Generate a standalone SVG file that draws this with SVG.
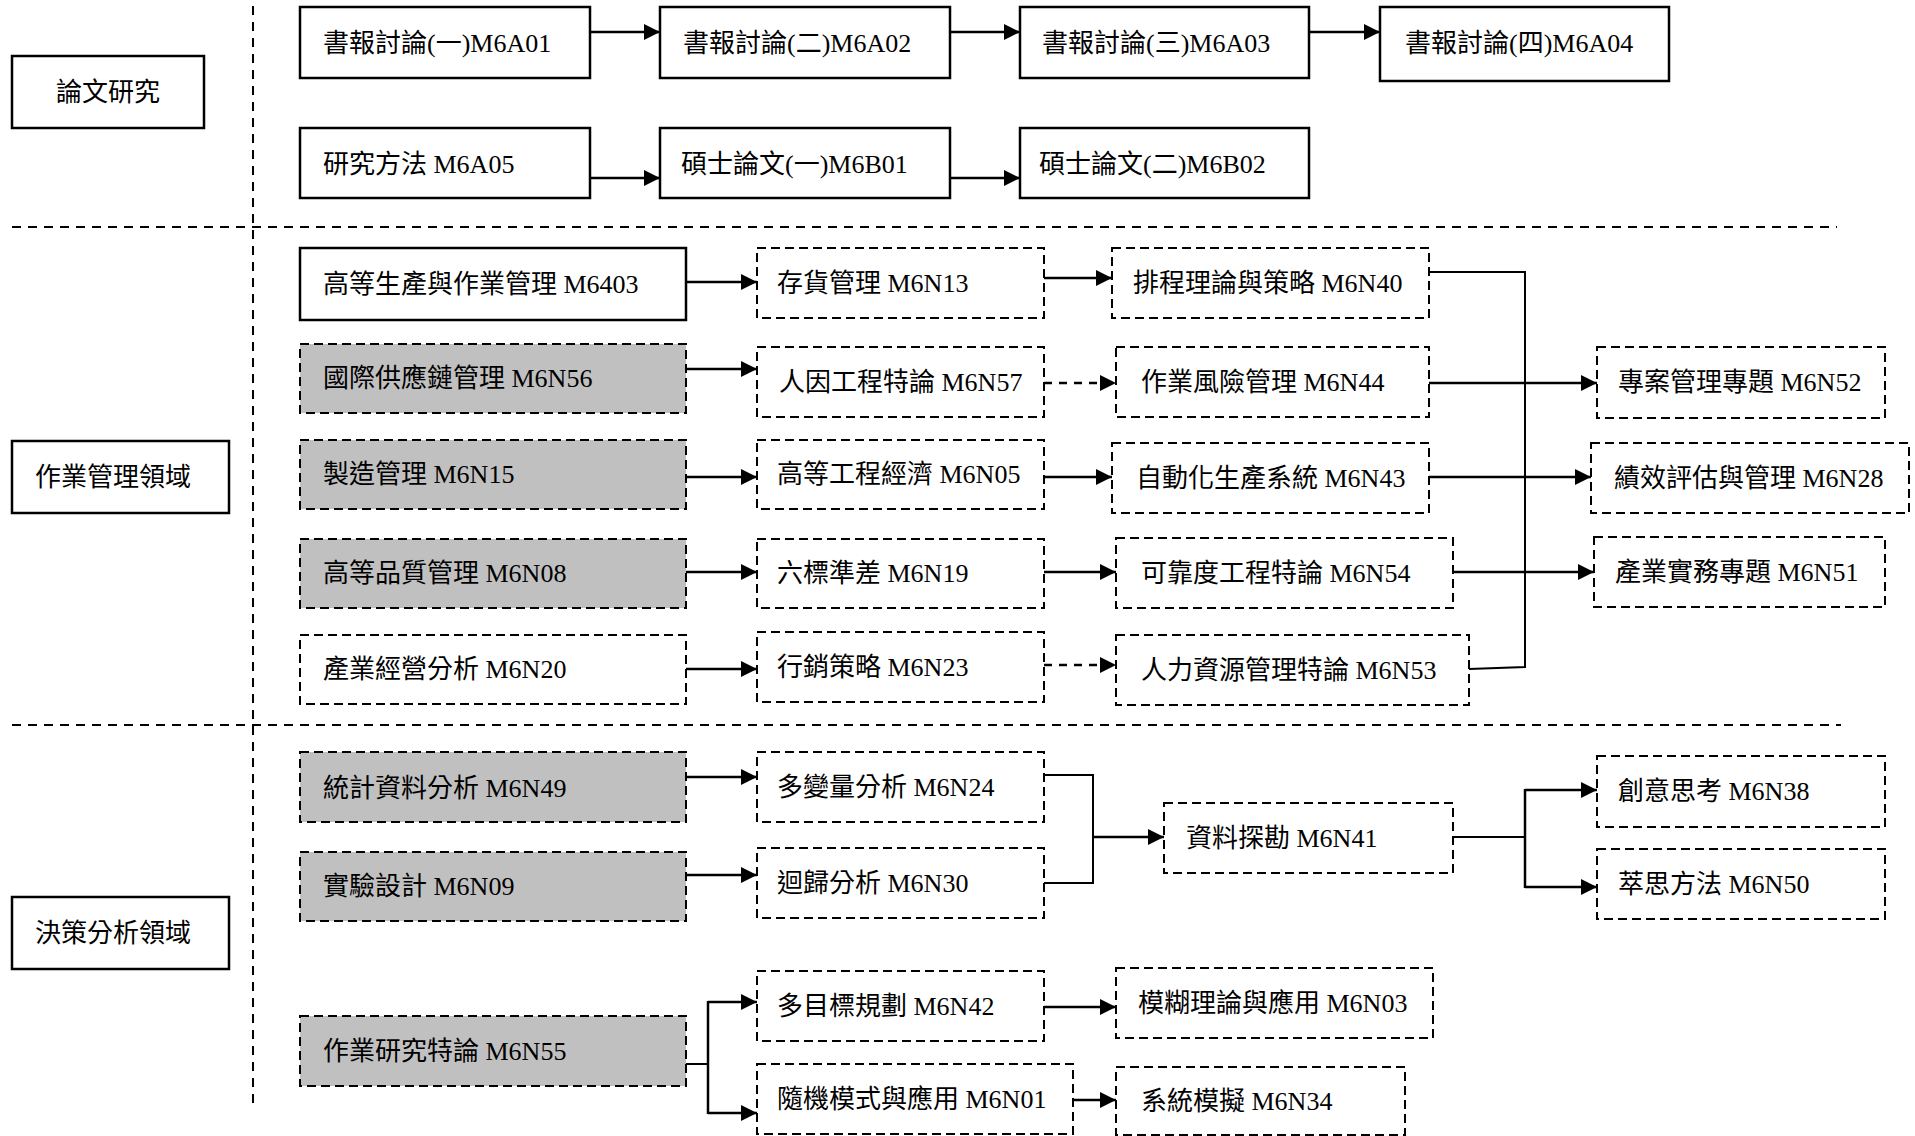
<svg xmlns="http://www.w3.org/2000/svg" width="1915" height="1136" viewBox="0 0 1915 1136">
<style>
  text { font-family: "Liberation Serif", "Noto Sans CJK TC", serif; font-size: 26px; fill: #000; }
  .solid { fill: #fff; stroke: #000; stroke-width: 2.5; }
  .dash { fill: #fff; stroke: #000; stroke-width: 2; stroke-dasharray: 9 5; }
  .gray { fill: #c0c0c0; stroke: #000; stroke-width: 2; stroke-dasharray: 9 5; }
  .sep { fill: none; stroke: #000; stroke-width: 2; stroke-dasharray: 9 7; }
  .ln { fill: none; stroke: #000; stroke-width: 2.5; }
  .thin { fill: none; stroke: #000; stroke-width: 2; }
  .dl { fill: none; stroke: #000; stroke-width: 2.5; stroke-dasharray: 8 7; }
</style>
<defs>
  <marker id="ah" viewBox="0 0 16 16" markerWidth="16" markerHeight="16" refX="16" refY="8" orient="auto" markerUnits="userSpaceOnUse">
    <path d="M0,0 L16,8 L0,16 z" fill="#000"/>
  </marker>
</defs>
<rect width="1915" height="1136" fill="#fff"/>

<g id="separators">
  <line class="sep" x1="253" y1="6" x2="253" y2="1107"/>
  <line class="sep" x1="12" y1="227" x2="1837" y2="227"/>
  <line class="sep" x1="12" y1="725" x2="1841" y2="725"/>
</g>

<g id="connectors">
  <line class="ln" x1="590" y1="32" x2="660" y2="32" marker-end="url(#ah)"/>
  <line class="ln" x1="950" y1="32" x2="1020" y2="32" marker-end="url(#ah)"/>
  <line class="ln" x1="1309" y1="32" x2="1380" y2="32" marker-end="url(#ah)"/>
  <line class="ln" x1="590" y1="178" x2="660" y2="178" marker-end="url(#ah)"/>
  <line class="ln" x1="950" y1="178" x2="1020" y2="178" marker-end="url(#ah)"/>

  <line class="ln" x1="686" y1="282" x2="757" y2="282" marker-end="url(#ah)"/>
  <line class="ln" x1="686" y1="369" x2="757" y2="369" marker-end="url(#ah)"/>
  <line class="ln" x1="686" y1="477" x2="757" y2="477" marker-end="url(#ah)"/>
  <line class="ln" x1="686" y1="572" x2="757" y2="572" marker-end="url(#ah)"/>
  <line class="ln" x1="686" y1="669" x2="757" y2="669" marker-end="url(#ah)"/>
  <line class="ln" x1="1044" y1="278" x2="1112" y2="278" marker-end="url(#ah)"/>
  <line class="dl" x1="1044" y1="383" x2="1116" y2="383" marker-end="url(#ah)"/>
  <line class="ln" x1="1044" y1="477" x2="1112" y2="477" marker-end="url(#ah)"/>
  <line class="ln" x1="1044" y1="572" x2="1116" y2="572" marker-end="url(#ah)"/>
  <line class="dl" x1="1044" y1="665" x2="1116" y2="665" marker-end="url(#ah)"/>
  <polyline class="thin" points="1429,272 1525,272 1525,667 1469,669"/>
  <line class="ln" x1="1429" y1="383" x2="1597" y2="383" marker-end="url(#ah)"/>
  <line class="ln" x1="1429" y1="477" x2="1591" y2="477" marker-end="url(#ah)"/>
  <line class="ln" x1="1453" y1="572" x2="1594" y2="572" marker-end="url(#ah)"/>

  <line class="ln" x1="686" y1="777" x2="757" y2="777" marker-end="url(#ah)"/>
  <line class="ln" x1="686" y1="875" x2="757" y2="875" marker-end="url(#ah)"/>
  <polyline class="thin" points="1044,775 1093,775 1093,883 1044,883"/>
  <line class="ln" x1="1093" y1="837" x2="1164" y2="837" marker-end="url(#ah)"/>
  <line class="thin" x1="1453" y1="837" x2="1525" y2="837"/>
  <line class="ln" x1="1525" y1="789" x2="1525" y2="888"/>
  <line class="ln" x1="1525" y1="790" x2="1597" y2="790" marker-end="url(#ah)"/>
  <line class="ln" x1="1525" y1="887" x2="1597" y2="887" marker-end="url(#ah)"/>
  <line class="thin" x1="686" y1="1064" x2="708" y2="1064"/>
  <line class="ln" x1="708" y1="1001" x2="708" y2="1114"/>
  <line class="ln" x1="708" y1="1002" x2="757" y2="1002" marker-end="url(#ah)"/>
  <line class="ln" x1="708" y1="1113" x2="757" y2="1113" marker-end="url(#ah)"/>
  <line class="ln" x1="1044" y1="1007" x2="1116" y2="1007" marker-end="url(#ah)"/>
  <line class="ln" x1="1073" y1="1100" x2="1116" y2="1100" marker-end="url(#ah)"/>
</g>

<g id="cat-thesis"><rect class="solid" x="12" y="56" width="192" height="72"/><text x="108" y="101" text-anchor="middle">論文研究</text></g>
<g id="M6A01"><rect class="solid" x="300" y="7" width="290" height="71"/><text x="323" y="52">書報討論(一)M6A01</text></g>
<g id="M6A02"><rect class="solid" x="660" y="7" width="290" height="71"/><text x="683" y="52">書報討論(二)M6A02</text></g>
<g id="M6A03"><rect class="solid" x="1020" y="7" width="289" height="71"/><text x="1042" y="52">書報討論(三)M6A03</text></g>
<g id="M6A04"><rect class="solid" x="1380" y="7" width="289" height="74"/><text x="1405" y="52">書報討論(四)M6A04</text></g>
<g id="M6A05"><rect class="solid" x="300" y="128" width="290" height="70"/><text x="323" y="173">研究方法 M6A05</text></g>
<g id="M6B01"><rect class="solid" x="660" y="128" width="290" height="70"/><text x="681" y="173">碩士論文(一)M6B01</text></g>
<g id="M6B02"><rect class="solid" x="1020" y="128" width="289" height="70"/><text x="1039" y="173">碩士論文(二)M6B02</text></g>

<g id="cat-ops"><rect class="solid" x="12" y="441" width="217" height="72"/><text x="35" y="486">作業管理領域</text></g>
<g id="M6403"><rect class="solid" x="300" y="248" width="386" height="72"/><text x="323" y="293">高等生產與作業管理 M6403</text></g>
<g id="M6N56"><rect class="gray" x="300" y="344" width="386" height="69"/><text x="323" y="387">國際供應鏈管理 M6N56</text></g>
<g id="M6N15"><rect class="gray" x="300" y="440" width="386" height="69"/><text x="323" y="483">製造管理 M6N15</text></g>
<g id="M6N08"><rect class="gray" x="300" y="539" width="386" height="69"/><text x="323" y="582">高等品質管理 M6N08</text></g>
<g id="M6N20"><rect class="dash" x="300" y="635" width="386" height="69"/><text x="323" y="678">產業經營分析 M6N20</text></g>
<g id="M6N13"><rect class="dash" x="757" y="248" width="287" height="70"/><text x="777" y="292">存貨管理 M6N13</text></g>
<g id="M6N57"><rect class="dash" x="757" y="347" width="287" height="70"/><text x="779" y="391">人因工程特論 M6N57</text></g>
<g id="M6N05"><rect class="dash" x="757" y="440" width="287" height="69"/><text x="777" y="483">高等工程經濟 M6N05</text></g>
<g id="M6N19"><rect class="dash" x="757" y="539" width="287" height="69"/><text x="777" y="582">六標準差 M6N19</text></g>
<g id="M6N23"><rect class="dash" x="757" y="632" width="287" height="70"/><text x="777" y="676">行銷策略 M6N23</text></g>
<g id="M6N40"><rect class="dash" x="1112" y="248" width="317" height="70"/><text x="1133" y="292">排程理論與策略 M6N40</text></g>
<g id="M6N44"><rect class="dash" x="1116" y="347" width="313" height="70"/><text x="1141" y="391">作業風險管理 M6N44</text></g>
<g id="M6N43"><rect class="dash" x="1112" y="443" width="317" height="70"/><text x="1136" y="487">自動化生產系統 M6N43</text></g>
<g id="M6N54"><rect class="dash" x="1116" y="538" width="337" height="70"/><text x="1141" y="582">可靠度工程特論 M6N54</text></g>
<g id="M6N53"><rect class="dash" x="1116" y="635" width="353" height="70"/><text x="1141" y="679">人力資源管理特論 M6N53</text></g>
<g id="M6N52"><rect class="dash" x="1597" y="347" width="288" height="71"/><text x="1618" y="391">專案管理專題 M6N52</text></g>
<g id="M6N28"><rect class="dash" x="1591" y="443" width="318" height="70"/><text x="1614" y="487">績效評估與管理 M6N28</text></g>
<g id="M6N51"><rect class="dash" x="1594" y="537" width="291" height="70"/><text x="1615" y="581">產業實務專題 M6N51</text></g>

<g id="cat-decision"><rect class="solid" x="12" y="897" width="217" height="72"/><text x="35" y="942">決策分析領域</text></g>
<g id="M6N49"><rect class="gray" x="300" y="752" width="386" height="70"/><text x="323" y="797">統計資料分析 M6N49</text></g>
<g id="M6N09"><rect class="gray" x="300" y="852" width="386" height="69"/><text x="323" y="895">實驗設計 M6N09</text></g>
<g id="M6N55"><rect class="gray" x="300" y="1016" width="386" height="70"/><text x="323" y="1060">作業研究特論 M6N55</text></g>
<g id="M6N24"><rect class="dash" x="757" y="752" width="287" height="70"/><text x="777" y="796">多變量分析 M6N24</text></g>
<g id="M6N30"><rect class="dash" x="757" y="848" width="287" height="70"/><text x="777" y="892">迴歸分析 M6N30</text></g>
<g id="M6N41"><rect class="dash" x="1164" y="803" width="289" height="70"/><text x="1186" y="847">資料探勘 M6N41</text></g>
<g id="M6N38"><rect class="dash" x="1597" y="756" width="288" height="71"/><text x="1618" y="800">創意思考 M6N38</text></g>
<g id="M6N50"><rect class="dash" x="1597" y="849" width="288" height="70"/><text x="1618" y="893">萃思方法 M6N50</text></g>
<g id="M6N42"><rect class="dash" x="757" y="971" width="287" height="70"/><text x="777" y="1015">多目標規劃 M6N42</text></g>
<g id="M6N01"><rect class="dash" x="757" y="1064" width="316" height="70"/><text x="777" y="1108">隨機模式與應用 M6N01</text></g>
<g id="M6N03"><rect class="dash" x="1116" y="968" width="317" height="70"/><text x="1138" y="1012">模糊理論與應用 M6N03</text></g>
<g id="M6N34"><rect class="dash" x="1116" y="1067" width="289" height="68"/><text x="1141" y="1110">系統模擬 M6N34</text></g>
</svg>
